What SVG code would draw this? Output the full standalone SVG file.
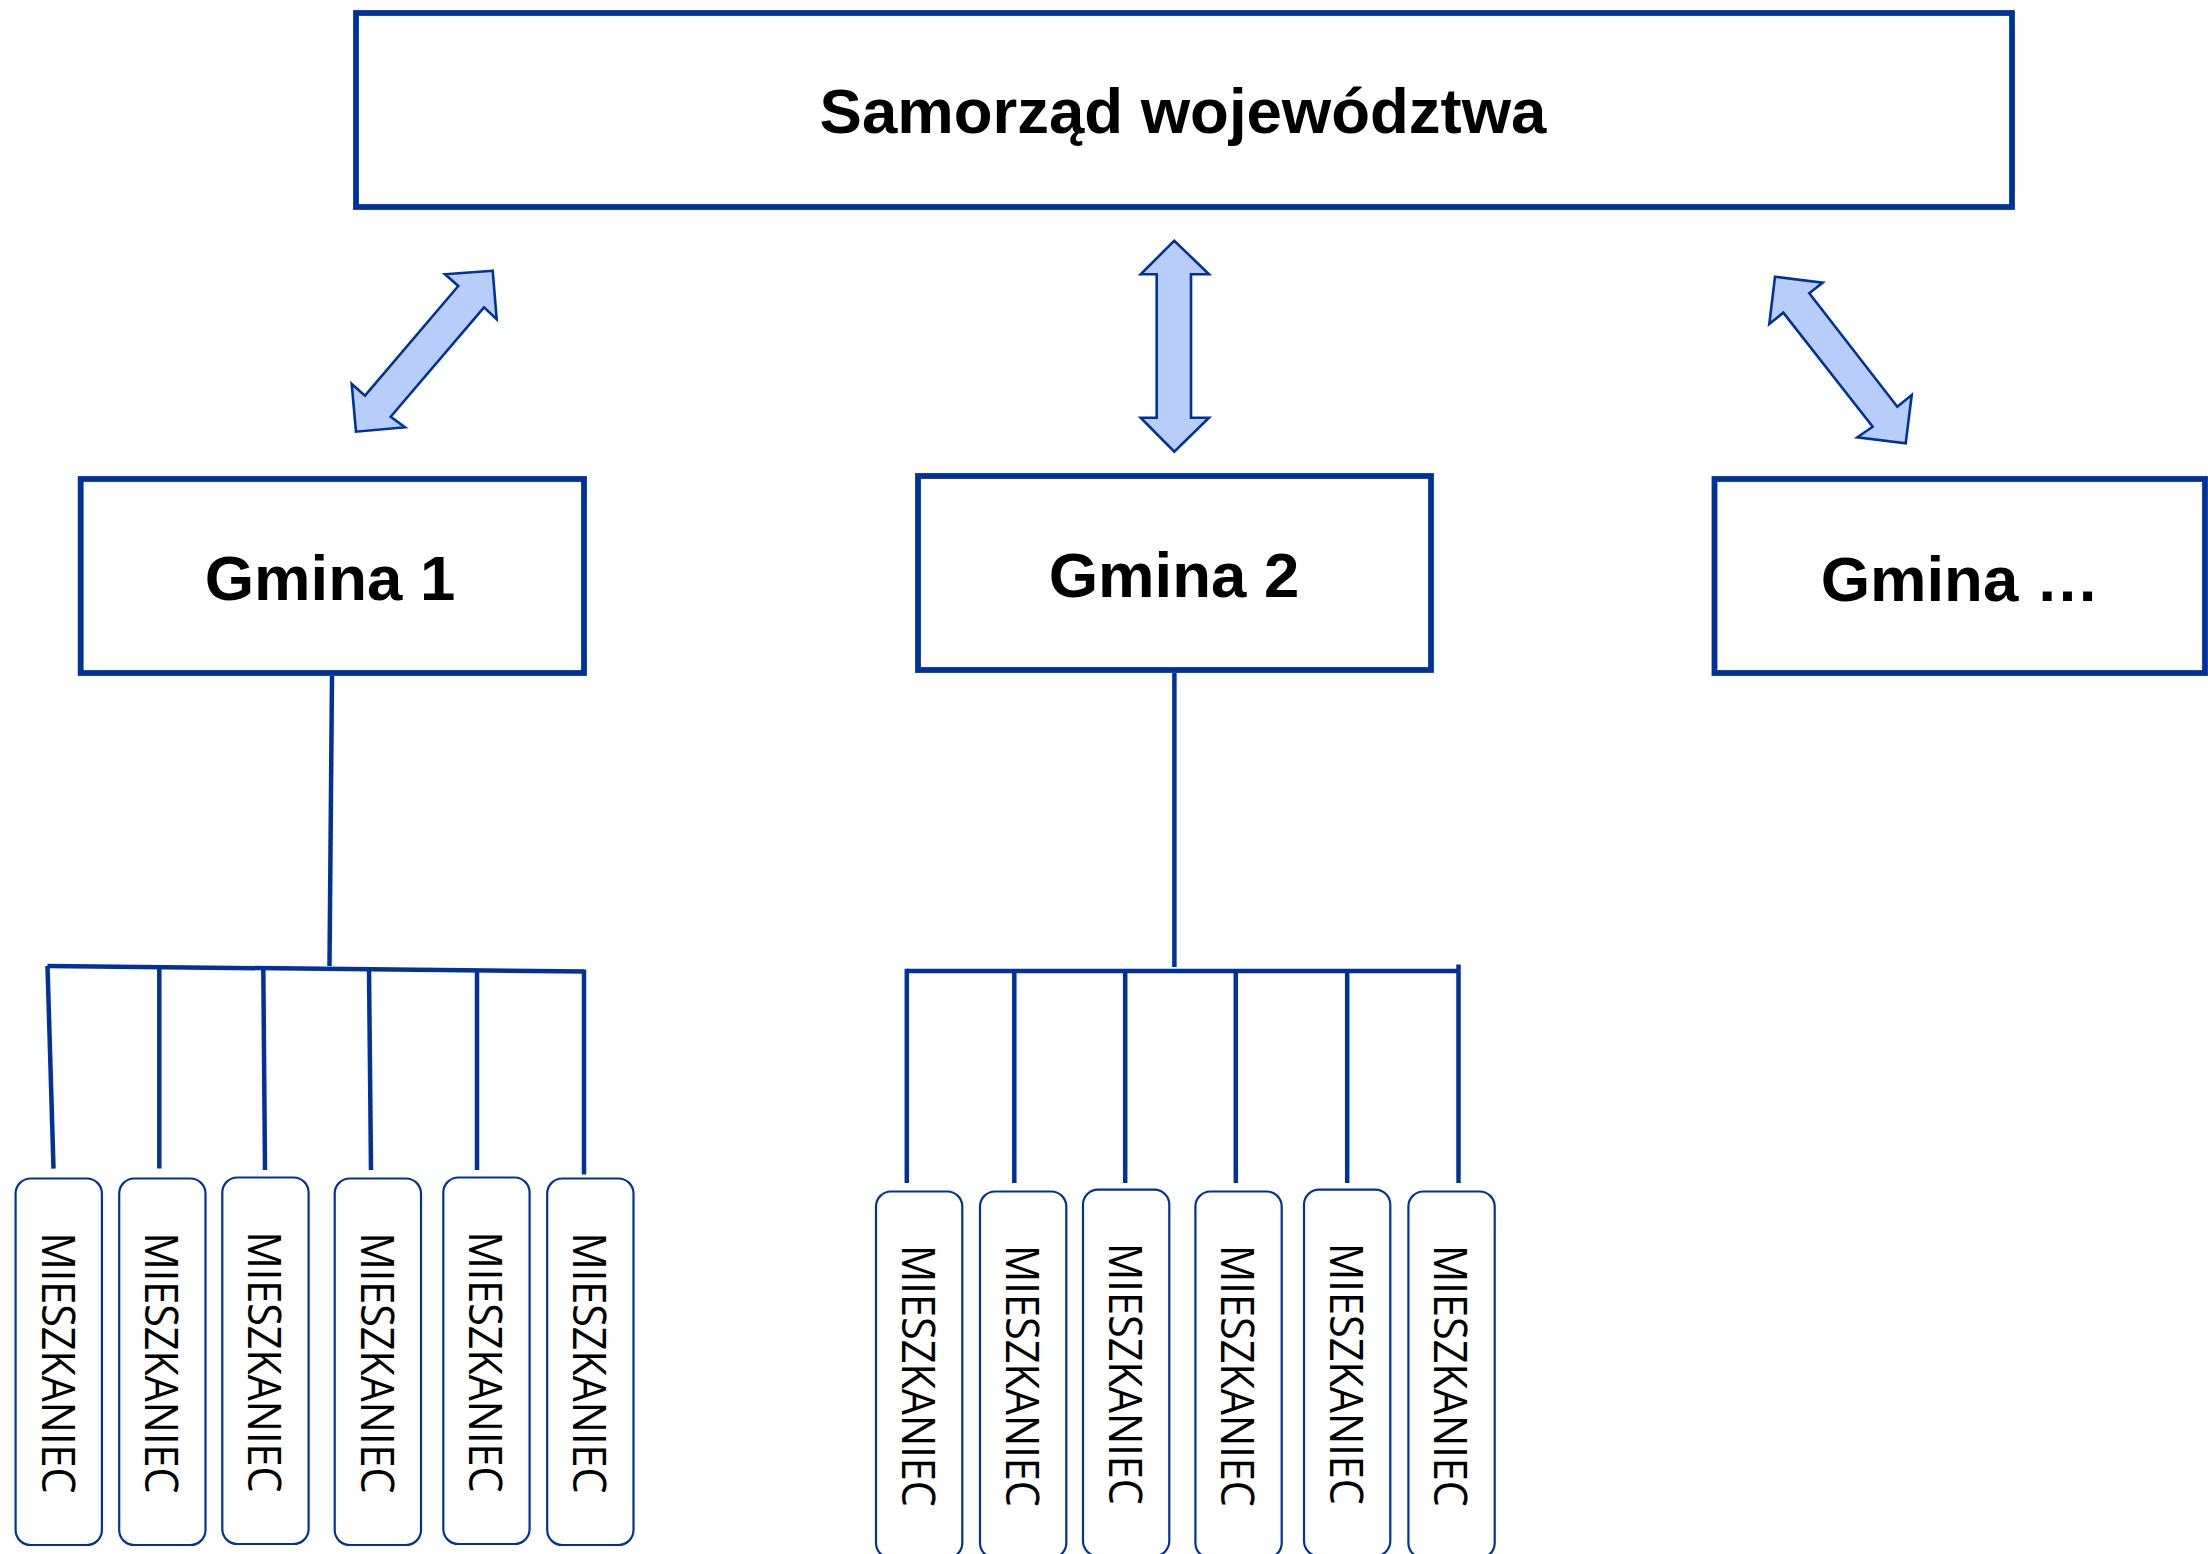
<svg xmlns="http://www.w3.org/2000/svg" width="2208" height="1554" viewBox="0 0 2208 1554">
<style>
.box{fill:#ffffff;stroke:#003399;stroke-width:5.8}
.title{font-family:"Liberation Sans",Arial,sans-serif;font-weight:bold;font-size:63.5px;fill:#000;text-anchor:middle}
.res{fill:#ffffff;stroke:#003399;stroke-width:2.2}
.rt{font-family:"Open Sans","Noto Sans",sans-serif;font-size:46px;fill:#000;text-anchor:middle}
.arr{fill:#b8cdfa;stroke:#003399;stroke-width:2.6;stroke-linejoin:miter}
.ln{fill:none;stroke:#003399;stroke-width:4.5;stroke-linecap:butt}
</style>
<rect width="2208" height="1554" fill="#ffffff"/>
<g id="connectors">
<polygon class="arr" points="492.7,270.7 445,274.3 458.3,286 365,395.7 351.7,384 356,431.7 405,427.3 390.7,416.7 484,307.3 496.7,319.3"/>
<polygon class="arr" points="1174.3,240.7 1140.7,274.3 1156.7,274.3 1156.7,417.7 1140.7,417.7 1174.3,451.7 1209,417.7 1191,417.7 1191,274.3 1209,274.3"/>
<polygon class="arr" points="1775,276.7 1822.7,282.7 1809.3,293.3 1897.3,406.7 1911.7,395 1905.7,443.3 1857.3,437.3 1872.7,426.7 1783.3,312.7 1769.3,324"/>
<path class="ln" d="M332,676 L329.5,966"/>
<path class="ln" d="M47.5,966 L584,971.5"/>
<path class="ln" d="M47.5,966 L53.5,1168.6"/>
<path class="ln" d="M159.3,967 L159.3,1168.6"/>
<path class="ln" d="M263.3,968 L265,1170"/>
<path class="ln" d="M369,969 L371,1170"/>
<path class="ln" d="M477,970 L477,1170"/>
<path class="ln" d="M584,969.5 L584,1174.5"/>
<path class="ln" d="M1174.4,673 L1174.4,967"/>
<path class="ln" d="M906.8,971 L1458.5,971"/>
<path class="ln" d="M906.8,968.8 L906.8,1183"/>
<path class="ln" d="M1014.3,971 L1014.3,1183"/>
<path class="ln" d="M1125.2,971 L1125.2,1183"/>
<path class="ln" d="M1235.8,971 L1235.8,1183"/>
<path class="ln" d="M1347.2,971 L1347.2,1183"/>
<path class="ln" d="M1458.5,964.5 L1458.5,1183"/>
</g>
<g id="samorzad">
<rect class="box" x="356" y="13" width="1656" height="194"/>
<text class="title" x="1183" y="133">Samorząd województwa</text>
</g>
<g id="gmina1">
<rect class="box" x="80.7" y="479" width="503.3" height="194"/>
<text class="title" x="330" y="600">Gmina 1</text>
</g>
<g id="gmina2">
<rect class="box" x="918" y="476" width="513" height="194"/>
<text class="title" x="1174" y="597">Gmina 2</text>
</g>
<g id="gmina3">
<rect class="box" x="1714.5" y="479" width="490.5" height="194"/>
<text class="title" x="1960" y="601">Gmina …</text>
</g>
<g id="m1-1"><rect class="res" x="15.6" y="1178.5" width="86.3" height="366.5" rx="15"/><text class="rt" transform="translate(41.5,1363) rotate(90)" textLength="261" lengthAdjust="spacingAndGlyphs">MIESZKANIEC</text></g>
<g id="m1-2"><rect class="res" x="119.2" y="1178.5" width="86.3" height="366.5" rx="15"/><text class="rt" transform="translate(145.2,1363) rotate(90)" textLength="261" lengthAdjust="spacingAndGlyphs">MIESZKANIEC</text></g>
<g id="m1-3"><rect class="res" x="222.3" y="1177.5" width="86.3" height="366.5" rx="15"/><text class="rt" transform="translate(248.3,1362) rotate(90)" textLength="261" lengthAdjust="spacingAndGlyphs">MIESZKANIEC</text></g>
<g id="m1-4"><rect class="res" x="334.7" y="1178.5" width="86.3" height="366.5" rx="15"/><text class="rt" transform="translate(360.7,1363) rotate(90)" textLength="261" lengthAdjust="spacingAndGlyphs">MIESZKANIEC</text></g>
<g id="m1-5"><rect class="res" x="443.3" y="1177.5" width="86.3" height="366.5" rx="15"/><text class="rt" transform="translate(469.3,1362) rotate(90)" textLength="261" lengthAdjust="spacingAndGlyphs">MIESZKANIEC</text></g>
<g id="m1-6"><rect class="res" x="547.2" y="1178.5" width="86.3" height="366.5" rx="15"/><text class="rt" transform="translate(573.2,1363) rotate(90)" textLength="261" lengthAdjust="spacingAndGlyphs">MIESZKANIEC</text></g>
<g id="m2-1"><rect class="res" x="876" y="1191.5" width="86.3" height="366.5" rx="15"/><text class="rt" transform="translate(902,1376) rotate(90)" textLength="262" lengthAdjust="spacingAndGlyphs">MIESZKANIEC</text></g>
<g id="m2-2"><rect class="res" x="980" y="1191.5" width="86.3" height="366.5" rx="15"/><text class="rt" transform="translate(1006,1376) rotate(90)" textLength="262" lengthAdjust="spacingAndGlyphs">MIESZKANIEC</text></g>
<g id="m2-3"><rect class="res" x="1083" y="1189.6" width="86.3" height="366.5" rx="15"/><text class="rt" transform="translate(1109,1374) rotate(90)" textLength="262" lengthAdjust="spacingAndGlyphs">MIESZKANIEC</text></g>
<g id="m2-4"><rect class="res" x="1195.4" y="1191.5" width="86.3" height="366.5" rx="15"/><text class="rt" transform="translate(1221.4,1376) rotate(90)" textLength="262" lengthAdjust="spacingAndGlyphs">MIESZKANIEC</text></g>
<g id="m2-5"><rect class="res" x="1304" y="1189.6" width="86.3" height="366.5" rx="15"/><text class="rt" transform="translate(1330,1374) rotate(90)" textLength="262" lengthAdjust="spacingAndGlyphs">MIESZKANIEC</text></g>
<g id="m2-6"><rect class="res" x="1408.4" y="1191.5" width="86.3" height="366.5" rx="15"/><text class="rt" transform="translate(1434.4,1376) rotate(90)" textLength="262" lengthAdjust="spacingAndGlyphs">MIESZKANIEC</text></g>
</svg>
